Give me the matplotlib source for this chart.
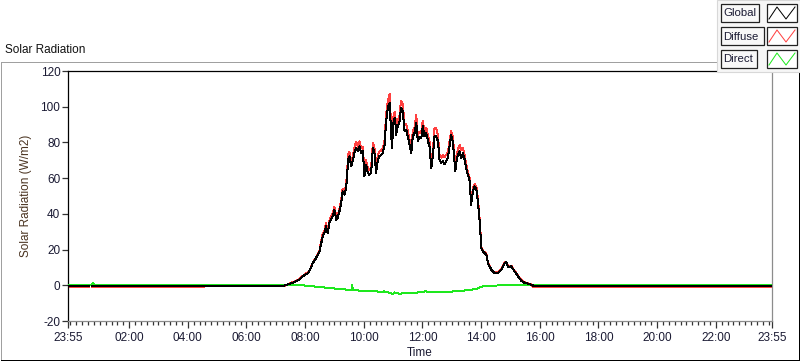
import numpy as np
import matplotlib
matplotlib.use('Agg')
import matplotlib.pyplot as plt
from matplotlib.lines import Line2D
from matplotlib.patches import Rectangle
from matplotlib import font_manager

nan = np.nan

# ---------------- data (hours after midnight; 23:55 of previous day = -5/60) ----------------
time_gd = [-0.0833, 0.62, 0.68, 0.75, 7.29, 7.46, 7.63, 7.80, 7.92, 8.03, 8.11, 8.20, 8.26, 8.34,
           8.43, 8.49, 8.54, 8.60, 8.66, 8.71, 8.77, 8.83, 8.88, 8.94, 9.00, 9.06, 9.11, 9.17,
           9.23, 9.28, 9.34, 9.40, 9.43, 9.48, 9.51, 9.57, 9.62, 9.68, 9.74, 9.80, 9.85, 9.91,
           9.97, 10.02, 10.08, 10.14, 10.19, 10.25, 10.31, 10.36, 10.42, 10.48, 10.53, 10.59,
           10.65, 10.71, 10.76, 10.82, 10.88, 10.93, 10.96, 11.02, 11.07, 11.10, 11.16, 11.22,
           11.27, 11.33, 11.39, 11.45, 11.50, 11.56, 11.62, 11.67, 11.73, 11.79, 11.84, 11.90,
           11.96, 12.01, 12.07, 12.13, 12.19, 12.24, 12.30, 12.36, 12.41, 12.47, 12.53, 12.58,
           12.64, 12.70, 12.75, 12.81, 12.87, 12.93, 12.98, 13.04, 13.07, 13.12, 13.16, 13.21,
           13.27, 13.32, 13.38, 13.44, 13.49, 13.55, 13.61, 13.66, 13.72, 13.78, 13.84, 13.89,
           13.95, 13.98, 14.01, 14.06, 14.12, 14.18, 14.23, 14.35, 14.46, 14.58, 14.69, 14.80,
           14.86, 14.93, 15.03, 15.09, 15.14, 15.26, 15.37, 15.49, 15.60, 15.71, 15.78, 23.9167]

global_vals = [-0.2, -0.2, nan, -0.2, -0.2, 0.7, 1.8, 3.1, 5.0, 6.3, 6.9, 9.7, 12.5, 14.3,
               17.1, 19.0, 22.7, 27.4, 29.3, 33.0, 29.3, 34.9, 36.7, 38.6, 42.3, 36.7, 37.7, 41.4,
               46.1, 52.6, 50.7, 54.5, 61.9, 71.3, 72.2, 66.6, 69.4, 74.1, 76.9, 75.0, 77.8, 74.1,
               75.0, 61.0, 67.5, 62.9, 61.9, 62.9, 76.9, 75.0, 62.9, 70.3, 72.2, 73.1,
               74.1, 78.7, 91.8, 99.3, 102.1, 86.2, 76.9, 92.7, 93.7, 84.3, 89.0, 91.8,
               99.3, 97.4, 86.2, 87.1, 83.4, 78.7, 74.1, 83.4, 85.3, 90.9, 81.0, 83.0,
               82.5, 89.0, 83.4, 85.3, 80.6, 77.8, 65.7, 73.1, 83.4, 83.4, 80.6, 70.3,
               68.5, 69.4, 67.9, 69.4, 71.3, 78.7, 84.3, 79.7, 74.1, 63.8, 69.4, 73.1,
               75.0, 71.3, 74.1, 70.3, 65.7, 61.9, 58.2, 45.1, 52.6, 55.4, 53.5, 47.0,
               35.8, 28.3, 20.9, 19.0, 18.1, 17.1, 12.5, 8.7, 6.9, 6.9, 8.7, 12.5,
               12.9, 10.0, 10.6, 9.0, 7.8, 5.0, 2.6, 1.3, 0.9, 0.3, -0.2, -0.2]

diffuse_vals = [-0.8, -0.8, nan, -0.8, -0.6, 1.0, 2.1, 3.4, 5.3, 6.6, 7.2, 10.0, 12.8, 14.6,
                17.4, 19.3, 24.2, 28.9, 30.8, 34.9, 30.8, 36.4, 38.2, 40.1, 44.0, 38.2, 39.2, 42.9,
                47.6, 54.1, 52.2, 56.0, 64.4, 74.1, 74.7, 69.1, 71.9, 77.1, 80.4, 77.5, 80.6, 76.6,
                77.5, 63.0, 70.0, 65.4, 64.4, 65.4, 79.7, 77.5, 65.4, 72.8, 74.7, 75.6,
                76.6, 81.2, 95.3, 103.3, 107.1, 89.7, 79.4, 96.2, 97.2, 87.3, 92.5, 95.3,
                103.3, 101.4, 89.7, 90.1, 86.4, 81.7, 76.6, 86.4, 88.3, 95.2, 84.0, 86.0,
                85.5, 92.0, 86.4, 88.3, 83.6, 80.8, 67.7, 76.1, 87.9, 87.9, 83.6, 73.3,
                71.5, 73.1, 71.6, 73.1, 74.3, 81.7, 86.3, 82.7, 76.1, 65.8, 72.4, 76.1,
                78.5, 75.8, 77.1, 72.8, 67.7, 63.4, 59.7, 46.6, 54.1, 56.9, 55.0, 48.5,
                37.0, 29.3, 21.5, 19.4, 18.5, 17.5, 12.8, 9.0, 7.2, 7.2, 9.0, 12.8,
                13.2, 10.3, 10.9, 9.3, 8.1, 5.3, 2.9, 1.6, 1.2, 0.4, -0.8, -0.8]

time_direct = [-0.0833, 0.72, 0.77, 0.80, 7.35, 7.92, 8.15, 8.49, 8.83, 9.17, 9.51, 9.58, 9.60,
               9.63, 9.85, 10.19, 10.40, 10.53, 10.70, 10.88, 10.99, 11.05, 11.22, 11.40, 11.56,
               11.90, 12.10, 12.24, 12.58, 12.92, 13.27, 13.61, 13.84, 14.01, 14.18, 14.40,
               15.31, 15.77, 23.9167]
direct_vals = [0.3, 0.3, 1.2, 0.3, 0.3, 0.0, -0.4, -1.0, -1.5, -2.1, -2.5, -2.6, 0.2,
               -2.6, -3.0, -3.4, -3.2, -3.8, -3.4, -4.2, -4.9, -4.0, -4.8, -4.3, -4.2,
               -4.0, -3.4, -3.8, -3.8, -3.6, -3.2, -2.6, -2.1, -0.8, -0.4, -0.2,
               0.3, 0.3, 0.3]

x_tick_pos = [-5 / 60, 2, 4, 6, 8, 10, 12, 14, 16, 18, 20, 22, 24 - 5 / 60]
x_tick_labels = ['23:55', '02:00', '04:00', '06:00', '08:00', '10:00', '12:00',
                 '14:00', '16:00', '18:00', '20:00', '22:00', '23:55']
y_ticks = [-20, 0, 20, 40, 60, 80, 100, 120]
series_names = ['Global', 'Diffuse', 'Direct']
series_colors = ['#000000', '#ff4040', '#1ee81e']

# ---------------- fonts ----------------
avail = {f.name for f in font_manager.fontManager.ttflist}
fam = 'Liberation Sans' if 'Liberation Sans' in avail else 'DejaVu Sans'
plt.rcParams['font.family'] = [fam, 'DejaVu Sans']
FS = 8.5
TXT = '#1a1a33'
PX = 0.72  # one pixel in points at 100 dpi

W, H = 800, 361
fig = plt.figure(figsize=(8.0, 3.61), dpi=100)
fig.patch.set_facecolor('white')


def fx(x):
    return x / W


def fy(y):
    return 1 - y / H


ax = fig.add_axes([fx(68), fy(321), fx(772) - fx(68), fy(71) - fy(321)])
ax.set_facecolor('white')

ax.plot(time_gd, diffuse_vals, color=series_colors[1], lw=PX, zorder=2, antialiased=False)
ax.plot(time_direct, direct_vals, color=series_colors[2], lw=PX, zorder=3, antialiased=False)
ax.plot(time_gd, global_vals, color=series_colors[0], lw=PX, zorder=4, antialiased=False)

ax.set_xlim(-5 / 60, 24 - 5 / 60)
ax.set_ylim(-20, 120)
ax.set_xticks(x_tick_pos)
ax.set_xticklabels(x_tick_labels)
ax.set_xticks(np.arange(0, 24, 0.2), minor=True)
ax.set_yticks(y_ticks)
ax.set_yticklabels([str(v) for v in y_ticks])

ax.tick_params(axis='x', which='major', direction='out', length=5, width=0.9,
               color='#333333', labelsize=FS, labelcolor=TXT, pad=3)
ax.tick_params(axis='x', which='minor', direction='out', length=3, width=0.9, color='#333333')
ax.tick_params(axis='y', which='major', direction='out', length=4, width=0.9,
               color='#333333', labelsize=FS, labelcolor=TXT, pad=1.5)

for side in ['top', 'left']:
    ax.spines[side].set_color('#000000')
    ax.spines[side].set_linewidth(0.9)
for side in ['bottom', 'right']:
    ax.spines[side].set_color('#8c8c8c')
    ax.spines[side].set_linewidth(0.9)

ax.set_xlabel('Time', fontsize=FS, color=TXT, labelpad=2)
ax.set_ylabel('Solar Radiation (W/m2)', fontsize=FS, color='#4a3320', labelpad=6)

# ---------------- panel frame ----------------
frame_kw = dict(transform=fig.transFigure, lw=PX, antialiased=False)
fig.add_artist(Line2D([fx(0.5), fx(717)], [fy(61.5), fy(61.5)], color='#a0a0a0', **frame_kw))
fig.add_artist(Line2D([fx(0.5), fx(0.5)], [fy(61.5), fy(360)], color='#a0a0a0', **frame_kw))
fig.add_artist(Line2D([fx(0.5), fx(798.5)], [fy(359.5), fy(359.5)], color='#000000', **frame_kw))
fig.add_artist(Line2D([fx(798.5), fx(798.5)], [fy(72), fy(359.5)], color='#000000', **frame_kw))

fig.text(fx(5), fy(50), 'Solar Radiation', fontsize=FS, color='#111111',
         ha='left', va='center')

# ---------------- legend (plot legend panel) ----------------
fig.add_artist(Rectangle((fx(717), fy(72)), fx(800) - fx(717), fy(0) - fy(72),
                         transform=fig.transFigure, facecolor='#f6f6f6',
                         edgecolor='#d8d8d8', lw=0.8, zorder=10))
row_tops = [4, 27, 50]
label_w = [38, 43, 36]
for i, name in enumerate(series_names):
    top = row_tops[i]
    hgt = 18
    fig.add_artist(Rectangle((fx(721), fy(top + hgt)), fx(721 + label_w[i]) - fx(721),
                             fy(top) - fy(top + hgt), transform=fig.transFigure,
                             facecolor='#f8f8f8', edgecolor='#222222', lw=0.9, zorder=11))
    fig.text(fx(723), fy(top + hgt / 2 + 0.5), name, fontsize=8.2, color=TXT,
             ha='left', va='center', zorder=12)
    fig.add_artist(Rectangle((fx(767), fy(top + hgt)), fx(797) - fx(767),
                             fy(top) - fy(top + hgt), transform=fig.transFigure,
                             facecolor='white', edgecolor='#222222', lw=0.9, zorder=11))
    zx = [769, 777, 786, 795]
    zy = [top + 15, top + 3, top + 15, top + 3]
    fig.add_artist(Line2D([fx(v) for v in zx], [fy(v) for v in zy], color=series_colors[i],
                          lw=PX, transform=fig.transFigure, zorder=12))

fig.savefig('out.png', dpi=100, facecolor='white')
